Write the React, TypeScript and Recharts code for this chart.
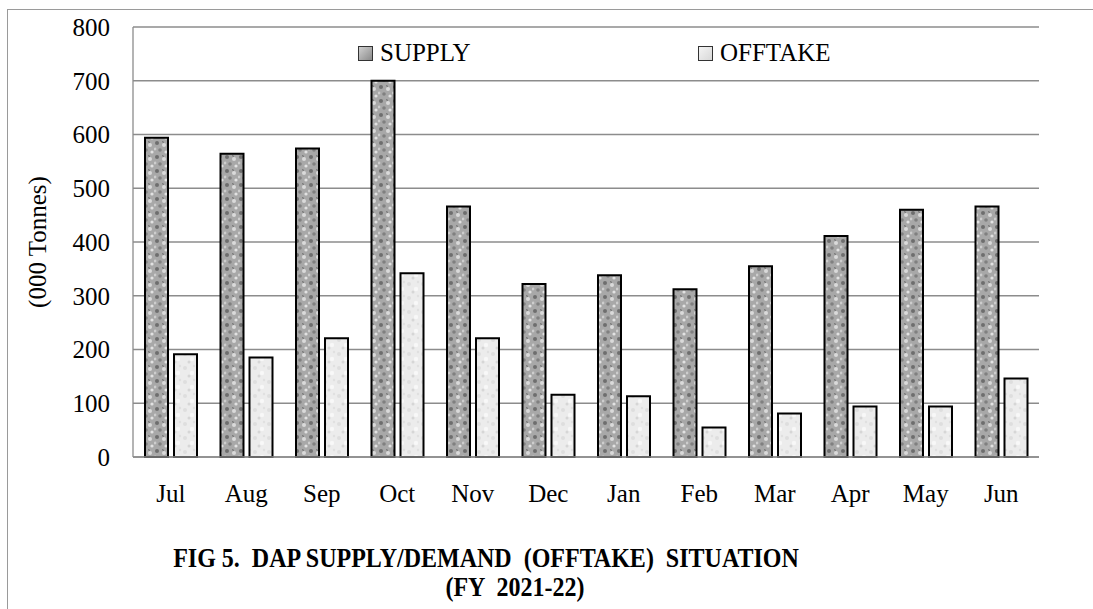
import { BarChart, Bar, XAxis, YAxis, CartesianGrid, Label } from 'recharts';

const months = ['Jul', 'Aug', 'Sep', 'Oct', 'Nov', 'Dec', 'Jan', 'Feb', 'Mar', 'Apr', 'May', 'Jun'];
const supply = [594, 564, 574, 700, 466, 322, 338, 312, 355, 411, 460, 466];
const offtake = [191, 185, 221, 342, 221, 116, 113, 55, 81, 94, 94, 146];
const yTicks = [0, 100, 200, 300, 400, 500, 600, 700, 800];

const data = months.map((m, i) => ({ month: m, supply: supply[i], offtake: offtake[i] }));

const serif = "'Liberation Serif', 'Times New Roman', serif";

// legend drawn as an overlay so it sits inside the plot without shrinking it
function LegendItem({ label, fill, left }: { label: string; fill: string; left: number }) {
  return (
    <div style={{ position: 'absolute', left, top: 39, height: 28, display: 'flex', alignItems: 'center' }}>
      <div style={{ width: 13, height: 13, border: '1.5px solid #333', background: fill, marginRight: 7 }} />
      <span style={{ fontFamily: serif, fontSize: 25, color: '#000', lineHeight: '28px' }}>{label}</span>
    </div>
  );
}

export default function App() {
  return (
    <div style={{ position: 'absolute', left: 0, top: 0, width: 1093, height: 609, overflow: 'hidden', background: '#fff' }}>
      <div style={{ position: 'absolute', left: 7, top: 9, width: 1200, height: 800, borderLeft: '1.5px solid #9a9a9a', borderTop: '1.5px solid #9a9a9a' }} />
      <BarChart
        width={1093}
        height={609}
        data={data}
        margin={{ top: 27, right: 54, left: 33, bottom: 102 }}
        barGap={6}
        barSize={23}
        style={{ position: 'absolute', left: 0, top: 0 }}
      >
        <defs>
          <pattern id="supplyTex" width="14" height="14" patternUnits="userSpaceOnUse">
            <rect width="14" height="14" fill="#a8a8a8" />
            <circle cx="3" cy="3" r="2" fill="#6e6e6e" />
            <circle cx="10" cy="5" r="2" fill="#dadada" />
            <circle cx="6" cy="10" r="1.8" fill="#808080" />
            <circle cx="12" cy="12" r="1.6" fill="#e2e2e2" />
            <circle cx="1" cy="9" r="1.4" fill="#cdcdcd" />
            <path d="M8 1 L10 2 L9 3 Z" fill="#555" />
          </pattern>
          <pattern id="offtakeTex" width="14" height="14" patternUnits="userSpaceOnUse">
            <rect width="14" height="14" fill="#ececec" />
            <circle cx="3" cy="4" r="2" fill="#dedede" />
            <circle cx="10" cy="9" r="2.2" fill="#f8f8f8" />
            <circle cx="7" cy="12" r="1.5" fill="#d6d6d6" />
            <circle cx="12" cy="2" r="1.2" fill="#e0e0e0" />
          </pattern>
        </defs>
        <CartesianGrid vertical={false} stroke="#8c8c8c" strokeWidth={1.3} />
        <XAxis
          dataKey="month"
          axisLine={{ stroke: '#8c8c8c', strokeWidth: 1.3 }}
          tickLine={false}
          tickSize={0}
          tickMargin={27}
          height={50}
          tick={{ fill: '#000', fontSize: 25, fontFamily: serif }}
        />
        <YAxis
          domain={[0, 800]}
          ticks={yTicks}
          width={100}
          axisLine={{ stroke: '#8c8c8c', strokeWidth: 1.3 }}
          tickLine={false}
          tickSize={0}
          tickMargin={23}
          tick={{ fill: '#000', fontSize: 25, fontFamily: serif }}
        >
          <Label
            content={() => (
              <text
                x={37}
                y={242}
                transform="rotate(-90 37 242)"
                textAnchor="middle"
                dominantBaseline="central"
                fontFamily={serif}
                fontSize={25}
                fill="#000"
              >
                (000 Tonnes)
              </text>
            )}
          />
        </YAxis>
        <Bar dataKey="supply" name="SUPPLY" fill="url(#supplyTex)" stroke="#000" strokeWidth={2} isAnimationActive={false} />
        <Bar dataKey="offtake" name="OFFTAKE" fill="url(#offtakeTex)" stroke="#000" strokeWidth={2} isAnimationActive={false} />
      </BarChart>
      <LegendItem label="SUPPLY" fill="linear-gradient(135deg,#d0d0d0,#8a8a8a)" left={358} />
      <LegendItem label="OFFTAKE" fill="linear-gradient(135deg,#f4f4f4,#d8d8d8)" left={698} />
      <div
        style={{
          position: 'absolute',
          left: 486,
          top: 558,
          transform: 'translate(-50%, -50%) scaleY(1.15)',
          whiteSpace: 'pre',
          fontFamily: serif,
          fontWeight: 'bold',
          fontSize: 24,
          color: '#000',
        }}
      >
        {'FIG 5.  DAP SUPPLY/DEMAND  (OFFTAKE)  SITUATION'}
      </div>
      <div
        style={{
          position: 'absolute',
          left: 515,
          top: 587,
          transform: 'translate(-50%, -50%) scaleY(1.15)',
          whiteSpace: 'pre',
          fontFamily: serif,
          fontWeight: 'bold',
          fontSize: 24,
          color: '#000',
        }}
      >
        {'(FY  2021-22)'}
      </div>
    </div>
  );
}
